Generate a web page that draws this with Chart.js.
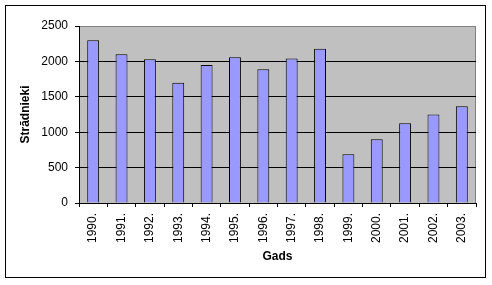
<!DOCTYPE html>
<html>
<head>
<meta charset="utf-8">
<script src="https://cdn.jsdelivr.net/npm/chart.js@4/dist/chart.umd.min.js"></script>
<style>
html,body{margin:0;padding:0;background:#fff;}
canvas{display:block;}
</style>
</head>
<body>
<canvas id="c" width="492" height="285"></canvas>
<script>
const categories = ["1990.","1991.","1992.","1993.","1994.","1995.","1996.","1997.","1998.","1999.","2000.","2001.","2002.","2003."];
const workers = [2300,2100,2030,1700,1950,2060,1890,2040,2180,690,900,1125,1250,1365];
const yTitle = "Strādnieki";
const xTitle = "Gads";

const frame = {
  id: 'frame',
  beforeDraw(chart) {
    const {ctx, chartArea: a} = chart;
    ctx.save();
    ctx.fillStyle = '#ffffff';
    ctx.fillRect(0, 0, chart.width, chart.height);
    ctx.strokeStyle = '#000000';
    ctx.lineWidth = 1;
    ctx.strokeRect(5.5, 5.5, 480, 272);
    ctx.fillStyle = '#C0C0C0';
    ctx.fillRect(a.left, a.top, a.right - a.left, a.bottom - a.top);
    ctx.strokeStyle = '#808080';
    ctx.strokeRect(a.left + 0.5, a.top + 0.5, a.right - a.left - 1, a.bottom - a.top);
    ctx.restore();
  }
};

new Chart(document.getElementById('c'), {
  type: 'bar',
  data: {
    labels: categories,
    datasets: [{
      data: workers,
      backgroundColor: '#9999FF',
      borderColor: '#000000',
      borderWidth: 1,
      barPercentage: 0.42,
      categoryPercentage: 1.0
    }]
  },
  options: {
    responsive: false,
    animation: false,
    devicePixelRatio: 1,
    layout: { padding: { left: 0, top: 26, right: 16, bottom: 0 } },
    plugins: { legend: { display: false }, tooltip: { enabled: false } },
    scales: {
      x: {
        offset: true,
        afterFit(s) { s.height = 82; },
        grid: { drawOnChartArea: false, drawTicks: true, tickLength: 4, color: '#000', tickColor: '#000', offset: true },
        border: { display: true, color: '#000', width: 1 },
        ticks: { minRotation: 90, maxRotation: 90, autoSkip: false, padding: 6, color: '#000',
                 font: { family: 'Liberation Sans', size: 12 } },
        title: { display: true, text: xTitle, color: '#000', padding: { top: 0, bottom: 21 },
                 font: { family: 'Liberation Sans', size: 12, weight: 'bold' } }
      },
      y: {
        min: 0, max: 2500,
        afterFit(s) { s.width = 79; },
        grid: { color: (c) => (c.tick && c.tick.value === 2500) ? '#808080' : '#000', tickColor: '#000', tickLength: 4, drawTicks: true },
        border: { display: true, color: '#000', width: 1 },
        ticks: { stepSize: 500, padding: 7, color: '#000', font: { family: 'Liberation Sans', size: 12 },
                 callback: (v) => String(v) },
        title: { display: true, text: yTitle, color: '#000', padding: { top: 18, bottom: 0 },
                 font: { family: 'Liberation Sans', size: 12, weight: 'bold' } }
      }
    }
  },
  plugins: [frame]
});
</script>
</body>
</html>
